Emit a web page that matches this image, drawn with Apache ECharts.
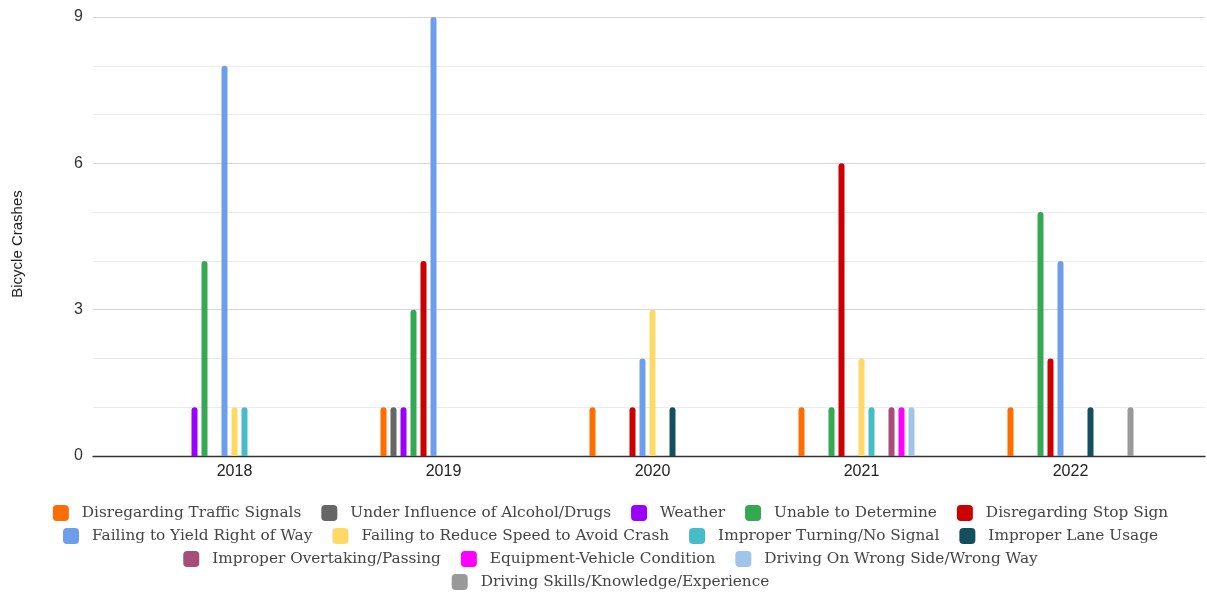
<!DOCTYPE html>
<html><head><meta charset="utf-8">
<script src="https://cdn.jsdelivr.net/npm/echarts@6/dist/echarts.min.js"></script>
<style>html,body{margin:0;padding:0;background:#fff;overflow:hidden;width:1207px;height:595px}#c{width:1221px;height:595px}</style>
</head><body><div id="c"></div>
<script>
const years = ['2018','2019','2020','2021','2022'];
const seriesNames = [
  'Disregarding Traffic Signals','Under Influence of Alcohol/Drugs','Weather','Unable to Determine','Disregarding Stop Sign',
  'Failing to Yield Right of Way','Failing to Reduce Speed to Avoid Crash','Improper Turning/No Signal','Improper Lane Usage',
  'Improper Overtaking/Passing','Equipment-Vehicle Condition','Driving On Wrong Side/Wrong Way','Driving Skills/Knowledge/Experience'
];
const trafficSignals = [0,1,1,1,1];
const underInfluence = [0,1,0,0,0];
const weather = [1,1,0,0,0];
const unableToDetermine = [4,3,0,1,5];
const stopSign = [0,4,1,6,2];
const failingToYield = [8,9,2,0,4];
const failingToReduce = [1,0,3,2,0];
const improperTurning = [1,0,0,1,0];
const improperLane = [0,0,1,0,1];
const improperOvertaking = [0,0,0,1,0];
const equipment = [0,0,0,1,0];
const wrongSide = [0,0,0,1,0];
const drivingSkills = [0,0,0,0,1];
const yTicks = [0,3,6,9];
const seriesData = [trafficSignals,underInfluence,weather,unableToDetermine,stopSign,failingToYield,failingToReduce,
  improperTurning,improperLane,improperOvertaking,equipment,wrongSide,drivingSkills];
const colors = ['#ff6d01','#666666','#9900ff','#34a853','#cc0000','#6d9eeb','#ffd966','#46bdc6','#134f5c','#a64d79','#ff00ff','#9fc5e8','#999999'];
const legendRows = [[0,1,2,3,4],[5,6,7,8],[9,10,11],[12]];
const legendTops = [505,528,551,574];

const chart = echarts.init(document.getElementById('c'));
const legends = legendRows.map((row,i)=>({
  data: row.map(k=>seriesNames[k]),
  top: legendTops[i], left: 'center', padding:0,
  itemWidth: 16, itemHeight: 16, itemGap: 20, icon: 'roundRect',
  textStyle: {fontFamily:'DejaVu Serif', fontSize:15.3, color:'#444', padding:[0,0,0,8]}
}));
chart.setOption({
  animation:false,
  color: colors,
  legend: legends,
  graphic: [{type:'text', x:18, y:244, rotation:Math.PI/2,
    style:{text:'Bicycle Crashes', font:'15px "Liberation Sans", Arial', fill:'#222', textAlign:'center', textVerticalAlign:'middle'}}],
  grid: [
    {left:93, right:16, top:17, bottom:139},
    {left:130, width:1045, top:17, bottom:139}
  ],
  xAxis: [
    {gridIndex:0, type:'value', min:0, max:1, axisLabel:{show:false}, axisTick:{show:false}, splitLine:{show:false},
      axisLine:{show:true, lineStyle:{color:'#333', width:1.3}}},
    {gridIndex:1, type:'category', data:years, axisLine:{show:false}, axisTick:{show:false},
      axisLabel:{color:'#222', fontSize:16, fontFamily:'Liberation Sans', margin:8}}
  ],
  yAxis: [
    {gridIndex:0, type:'value', min:0, max:9, interval:3,
      axisLine:{show:false}, axisTick:{show:false},
      axisLabel:{color:'#333', fontSize:16, fontFamily:'Liberation Sans', margin:10,
        formatter: v => yTicks.includes(v) ? String(v) : ''},
      splitLine:{lineStyle:{color:'#d6d6d6', width:1.2}},
      minorTick:{show:false, splitNumber:3},
      minorSplitLine:{show:true, lineStyle:{color:'#ebebeb', width:1}}},
    {gridIndex:1, type:'value', min:0, max:9, show:false, splitLine:{show:false}}
  ],
  series: seriesData.map((d,i)=>({
    name: seriesNames[i], type:'bar', xAxisIndex:1, yAxisIndex:1, data:d,
    barWidth:6, barGap:'66.67%', itemStyle:{borderRadius:[3,3,0,0]}, z:3
  }))
});
</script></body></html>
